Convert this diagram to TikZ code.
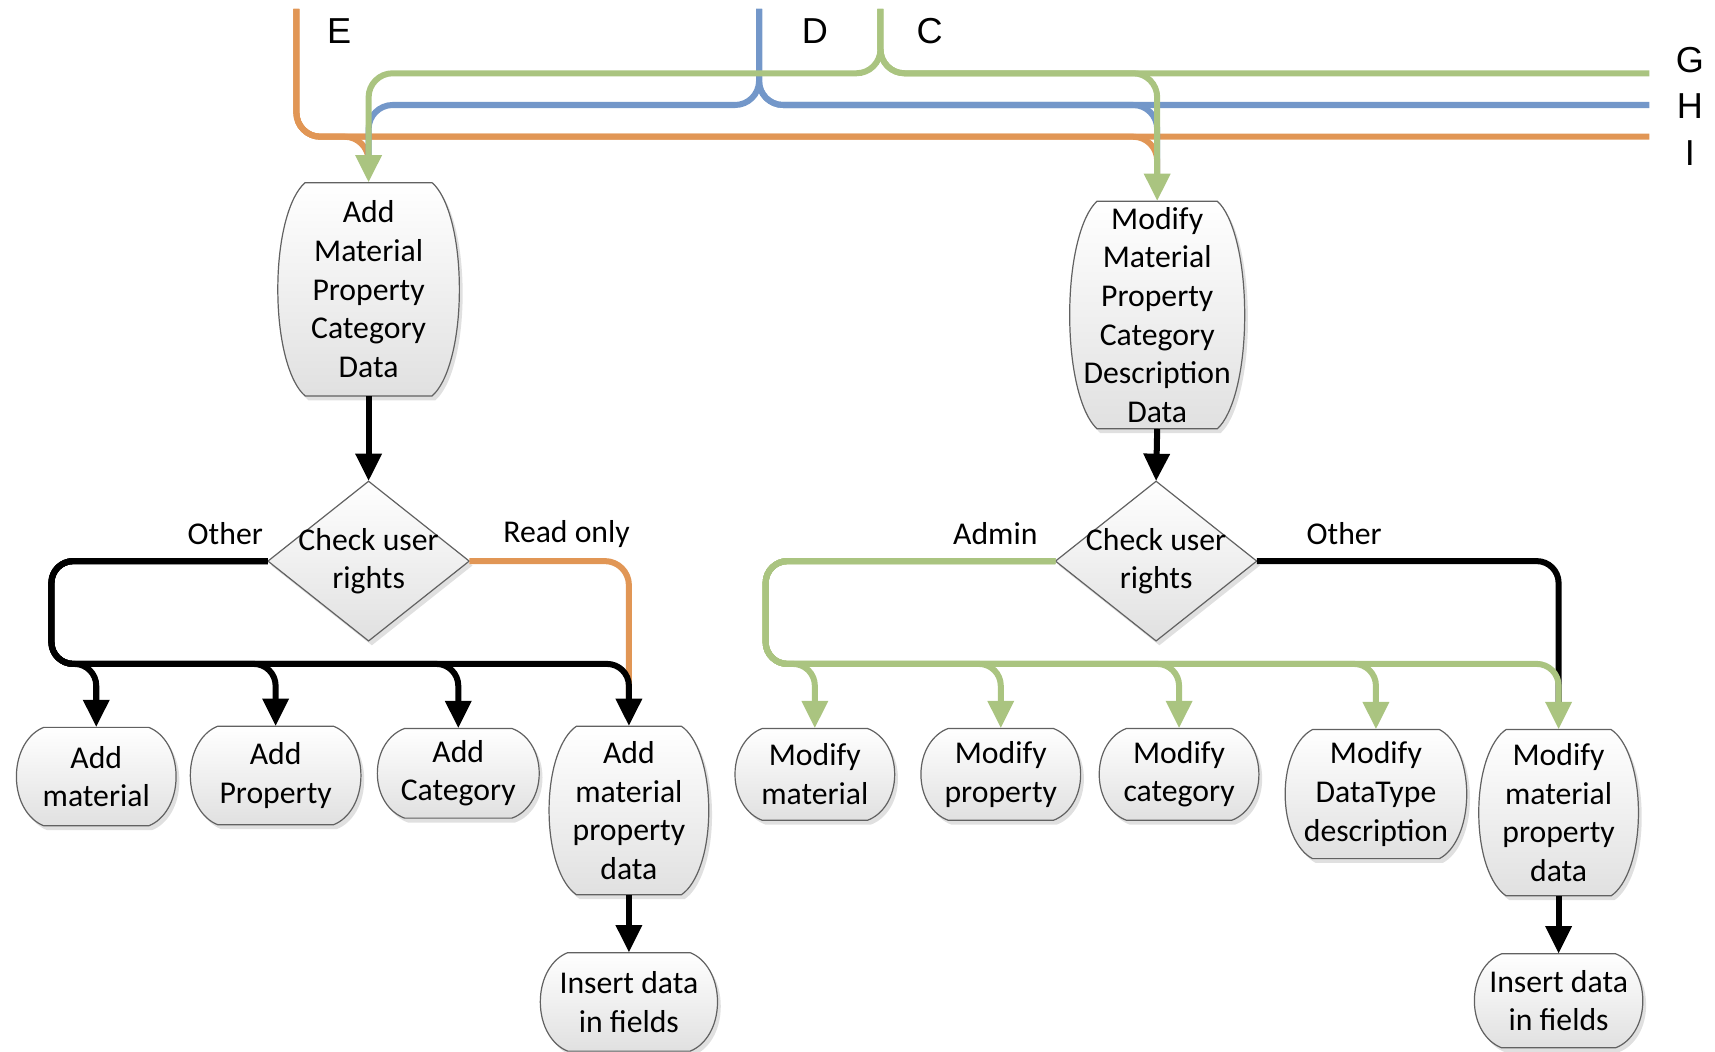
\documentclass[tikz,border=0pt]{standalone}
\usepackage{fontspec}
\setmainfont{Carlito}
\newfontfamily\letterfont{Liberation Sans}
\usetikzlibrary{arrows.meta}

\definecolor{floworange}{RGB}{225,150,85}
\definecolor{flowblue}{RGB}{115,151,201}
\definecolor{flowgreen}{RGB}{170,196,128}

\tikzset{
  proctext/.style={inner sep=0pt, align=center, text=black,
                   font=\fontsize{29}{35.3}\selectfont},
  lbl/.style={inner sep=0pt, font=\fontsize{29}{35.3}\selectfont},
  letter/.style={inner sep=0pt, font=\letterfont\fontsize{33}{36}\selectfont},
  outline/.style={draw=black!62, line width=1.1pt, top color=white, bottom color=black!12},
  shadowfill/.style={fill=black!40, opacity=0.3},
  flow/.style={line width=5.5pt, rounded corners=22pt},
  blk/.style={draw=black, line width=5.5pt, rounded corners=20pt},
  tip/.style={-{Triangle[length=25pt,width=23pt]}},
}

% barrel-shaped process box: name, cx, cy, half width, half height, text
\newcommand\barrelpath[1]{%
  \path[#1] (\pLi,\pT) -- (\pRi,\pT)
    .. controls (\pRc,\pTa) and (\pR,\pTc) .. (\pR,\pCy)
    .. controls (\pR,\pBc) and (\pRc,\pBa) .. (\pRi,\pB)
    -- (\pLi,\pB)
    .. controls (\pLc,\pBa) and (\pL,\pBc) .. (\pL,\pCy)
    .. controls (\pL,\pTc) and (\pLc,\pTa) .. (\pLi,\pT) -- cycle;}
\newcommand\procnode[6]{%
  \pgfmathsetmacro\pL{#2-#4}\pgfmathsetmacro\pR{#2+#4}%
  \pgfmathsetmacro\pT{#3-#5}\pgfmathsetmacro\pB{#3+#5}%
  \pgfmathsetmacro\pCy{#3}%
  \pgfmathsetmacro\pLi{#2-#4+25}\pgfmathsetmacro\pRi{#2+#4-25}%
  \pgfmathsetmacro\pLc{#2-#4+11}\pgfmathsetmacro\pRc{#2+#4-11}%
  \pgfmathsetmacro\pTc{#3-0.5*#5}\pgfmathsetmacro\pBc{#3+0.5*#5}%
  \pgfmathsetmacro\pTa{#3-0.88*#5}\pgfmathsetmacro\pBa{#3+0.88*#5}%
  \begin{scope}[xshift=3pt,yshift=-4pt]\barrelpath{shadowfill}\end{scope}
  \barrelpath{outline}
  \node[proctext, minimum width={2*#4*1pt}, minimum height={2*#5*1pt}] (#1) at (#2,#3) {#6};}

% decision diamond: name, cx, cy, text
\newcommand\decnode[4]{%
  \begin{scope}[xshift=3pt,yshift=-4pt]
    \path[shadowfill] (#2,#3-73) -- (#2+92,#3) -- (#2,#3+73) -- (#2-92,#3) -- cycle;
  \end{scope}
  \path[outline] (#2,#3-73) -- (#2+92,#3) -- (#2,#3+73) -- (#2-92,#3) -- cycle;
  \node[proctext, minimum width=184pt, minimum height=146pt] (#1) at (#2,#3) {#4};}

\begin{document}
\begin{tikzpicture}[x=1pt, y=-1pt]
\useasboundingbox (0,0) rectangle (1568,961);

% ---------- process boxes ----------
\procnode{addcat}{337}{264.5}{83}{97.5}{Add\\Material\\Property\\Category\\Data}
\procnode{modcat}{1058}{288}{80}{104}{Modify\\Material\\Property\\Category\\Description\\Data}

\decnode{chkA}{337}{513}{Check user\\rights}
\decnode{chkM}{1057}{513}{Check user\\rights}

\procnode{addmat}{88}{710}{73}{45}{Add\\material}
\procnode{addprop}{252}{709}{78}{45}{Add\\Property}
\procnode{addcatg}{419}{707}{74}{41}{Add\\Category}
\procnode{addmpd}{575}{741}{73}{77}{Add\\material\\property\\data}
\procnode{insA}{575}{916}{81}{45}{Insert data\\in fields}

\procnode{modmat}{745}{708}{73}{42}{Modify\\material}
\procnode{modprop}{915}{708}{73}{42}{Modify\\property}
\procnode{modcatg}{1078}{708}{73}{42}{Modify\\category}
\procnode{moddt}{1258}{726}{83}{59}{Modify\\DataType\\description}
\procnode{modmpd}{1425}{743}{73}{76}{Modify\\material\\property\\data}
\procnode{insM}{1425}{915}{77}{43}{Insert data\\in fields}

% ---------- incoming flows E, D, C and outgoing G, H, I ----------
\coordinate (Etop) at (271,8);
\coordinate (Dtop) at (694,8);
\coordinate (Ctop) at (805,8);
\coordinate (Gend) at (1508,67);
\coordinate (Hend) at (1508,96);
\coordinate (Iend) at (1508,125);

\draw[flow, draw=floworange] (Etop) |- (Iend);
\draw[flow, draw=floworange, shorten >=24pt] (Etop) |- (addcat.north |- Iend) -- (addcat.north);
\draw[flow, draw=floworange, shorten >=24pt] (Etop) |- (modcat.north |- Iend) -- (modcat.north);

\draw[flow, draw=flowblue] (Dtop) |- (Hend);
\draw[flow, draw=flowblue, shorten >=24pt] (Dtop) |- (addcat.north |- Hend) -- (addcat.north);
\draw[flow, draw=flowblue, shorten >=24pt] (Dtop) |- (modcat.north |- Hend) -- (modcat.north);

\draw[flow, draw=flowgreen] (Ctop) |- (Gend);
\draw[flow, draw=flowgreen, tip] (Ctop) |- (addcat.north |- Gend) -- (addcat.north);
\draw[flow, draw=flowgreen, tip] (Ctop) |- (modcat.north |- Gend) -- (modcat.north);

\node[letter] (lE) at (310,28) {E};
\node[letter] (lD) at (745,28) {D};
\node[letter] (lC) at (850,28) {C};
\node[letter] (lG) at (1545,55) {G};
\node[letter] (lH) at (1545,97) {H};
\node[letter] (lI) at (1545,140) {I};

% ---------- add branch ----------
\draw[blk, tip] (addcat.south) -- (chkA.north);
\coordinate (lbus) at (47,607);
\draw[flow, draw=floworange, shorten >=20pt] (chkA.east) -| (addmpd.north);
\draw[blk, tip] (chkA.west) -| (lbus) -- (addmat.north |- lbus) -- (addmat.north);
\draw[blk, tip] (chkA.west) -| (lbus) -- (addprop.north |- lbus) -- (addprop.north);
\draw[blk, tip] (chkA.west) -| (lbus) -- (addcatg.north |- lbus) -- (addcatg.north);
\draw[blk, tip] (chkA.west) -| (lbus) -- (addmpd.north |- lbus) -- (addmpd.north);
\draw[blk, tip] (addmpd.south) -- (insA.north);
\node[lbl] (oA) at (206,488) {Other};
\node[lbl] (rA) at (518,488) {Read only};

% ---------- modify branch ----------
\draw[blk, tip] (modcat.south) -- (chkM.north);
\coordinate (rbus) at (700,607);
\draw[blk, shorten >=22pt] (chkM.east) -| (modmpd.north);
\draw[flow, draw=flowgreen, rounded corners=20pt, tip] (chkM.west) -| (rbus) -- (modmat.north |- rbus) -- (modmat.north);
\draw[flow, draw=flowgreen, rounded corners=20pt, tip] (chkM.west) -| (rbus) -- (modprop.north |- rbus) -- (modprop.north);
\draw[flow, draw=flowgreen, rounded corners=20pt, tip] (chkM.west) -| (rbus) -- (modcatg.north |- rbus) -- (modcatg.north);
\draw[flow, draw=flowgreen, rounded corners=20pt, tip] (chkM.west) -| (rbus) -- (moddt.north |- rbus) -- (moddt.north);
\draw[flow, draw=flowgreen, rounded corners=20pt, tip] (chkM.west) -| (rbus) -- (modmpd.north |- rbus) -- (modmpd.north);
\draw[blk, tip] (modmpd.south) -- (insM.north);
\node[lbl] (aM) at (910,488) {Admin};
\node[lbl] (oM) at (1229,488) {Other};
\end{tikzpicture}
\end{document}
